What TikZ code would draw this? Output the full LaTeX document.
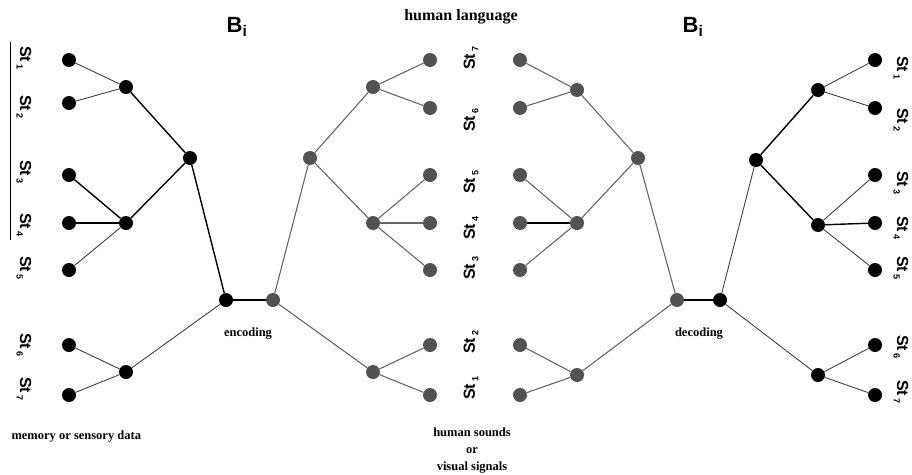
\documentclass[tikz,border=0pt]{standalone}
\usepackage{fontspec}
\setmainfont{Liberation Serif}
\setsansfont{Liberation Sans}
\newcommand{\stl}[1]{\textsf{\textbf{St\,\raisebox{-3.5pt}{\fontsize{9}{9}\selectfont #1}}}}
\tikzset{
  bn/.style={circle,fill=black,inner sep=0pt,minimum size=14pt},
  gn/.style={circle,fill=black!68,inner sep=0pt,minimum size=14pt},
  bl/.style={draw=black,line width=1.4pt},
  blt/.style={draw=black!75,line width=0.9pt},
  gl/.style={draw=black!60,line width=1.1pt},
  lbl/.style={font=\fontsize{16}{18}\selectfont,inner sep=1pt},
  captxt/.style={font=\bfseries\fontsize{12.5}{14}\selectfont,align=center},
  bi/.style={font=\sffamily\bfseries\fontsize{22}{24}\selectfont}
}
\begin{document}
\begin{tikzpicture}[x=1pt,y=-1pt]
\useasboundingbox (0,0) rectangle (912,474);
% ---------- left black tree ----------
\foreach \n/\y in {1/60,2/103,3/175,4/223,5/270,6/345,7/395}
  \node[bn] (L\n) at (69,\y) {};
\node[bn] (La) at (126,87) {};
\node[bn] (Lb) at (126,223) {};
\node[bn] (Lc) at (126,372) {};
\node[bn] (Ld) at (190,158) {};
\node[bn] (Lr) at (226,300) {};
\draw[blt] (L1) -- (La); \draw[blt] (L2) -- (La);
\draw[bl] (L3) -- (Lb); \draw[bl] (L4) -- (Lb); \draw[blt] (L5) -- (Lb);
\draw[blt] (L6) -- (Lc); \draw[blt] (L7) -- (Lc);
\draw[bl] (La) -- (Ld); \draw[bl] (Lb) -- (Ld);
\draw[bl] (Ld) -- (Lr); \draw[blt] (Lc) -- (Lr);
% ---------- centre-left gray tree ----------
\foreach \n/\y in {1/60,2/108,3/175,4/223,5/270,6/345,7/395}
  \node[gn] (M\n) at (430,\y) {};
\node[gn] (Ma) at (373,87) {};
\node[gn] (Mb) at (373,223) {};
\node[gn] (Mc) at (373,372) {};
\node[gn] (Md) at (310,158) {};
\node[gn] (Mr) at (273,300) {};
\draw[gl] (M1) -- (Ma); \draw[gl] (M2) -- (Ma);
\draw[gl] (M3) -- (Mb); \draw[gl] (M4) -- (Mb); \draw[gl] (M5) -- (Mb);
\draw[gl] (M6) -- (Mc); \draw[gl] (M7) -- (Mc);
\draw[gl] (Ma) -- (Md); \draw[gl] (Mb) -- (Md);
\draw[gl] (Md) -- (Mr); \draw[gl] (Mc) -- (Mr);
\draw[bl] (Lr) -- (Mr);
% ---------- centre-right gray tree ----------
\foreach \n/\y in {1/60,2/108,3/175,4/223,5/270,6/345,7/395}
  \node[gn] (N\n) at (520,\y) {};
\node[gn] (Na) at (577,90) {};
\node[gn] (Nb) at (577,223) {};
\node[gn] (Nc) at (577,375) {};
\node[gn] (Nd) at (638,158) {};
\node[gn] (Nr) at (677,300) {};
\draw[gl] (N1) -- (Na); \draw[gl] (N2) -- (Na);
\draw[gl] (N3) -- (Nb); \draw[bl] (N4) -- (Nb); \draw[gl] (N5) -- (Nb);
\draw[gl] (N6) -- (Nc); \draw[gl] (N7) -- (Nc);
\draw[gl] (Na) -- (Nd); \draw[gl] (Nb) -- (Nd);
\draw[gl] (Nd) -- (Nr); \draw[gl] (Nc) -- (Nr);
% ---------- right black tree ----------
\foreach \n/\y in {1/60,2/108,3/175,4/223,5/270,6/345,7/395}
  \node[bn] (R\n) at (875,\y) {};
\node[bn] (Ra) at (818,90) {};
\node[bn] (Rb) at (818,225) {};
\node[bn] (Rc) at (818,375) {};
\node[bn] (Rd) at (756,160) {};
\node[bn] (Rr) at (720,300) {};
\draw[blt] (R1) -- (Ra); \draw[blt] (R2) -- (Ra);
\draw[blt] (R3) -- (Rb); \draw[bl] (R4) -- (Rb); \draw[blt] (R5) -- (Rb);
\draw[blt] (R6) -- (Rc); \draw[blt] (R7) -- (Rc);
\draw[bl] (Ra) -- (Rd); \draw[bl] (Rb) -- (Rd);
\draw[blt] (Rd) -- (Rr); \draw[blt] (Rc) -- (Rr);
\draw[bl] (Nr) -- (Rr);
% ---------- labels ----------
\foreach \n/\y in {1/58,2/107,3/172,4/225,5/268,6/345,7/389}
  \node[lbl,rotate=-90] (lt\n) at (24,\y) {\stl{\n}};
\foreach \n/\y in {7/58,6/120,5/182,4/228,3/268,2/342,1/388}
  \node[lbl,rotate=90] (ct\n) at (471,\y) {\stl{\n}};
\foreach \n/\y in {1/68,2/120,3/183,4/228,5/268,6/347,7/392}
  \node[lbl,rotate=-90] (rt\n) at (901,\y) {\stl{\n}};
\draw[line width=0.8pt] (10,42) -- (10,240);
\node[bi] (b1) at (237,27) {B\textsubscript{i}};
\node[bi] (b2) at (693,27) {B\textsubscript{i}};
\node[font=\bfseries\fontsize{16}{17}\selectfont] (hl) at (461,17) {human language};
\node[captxt] (enc) at (248,334) {encoding};
\node[captxt] (dec) at (699,334) {decoding};
\node[captxt,anchor=west] (mem) at (8,437) {memory or sensory data};
\node[captxt,font=\bfseries\fontsize{12.5}{17}\selectfont] (hs) at (472,451) {human sounds\\or\\visual signals};
\end{tikzpicture}
\end{document}
